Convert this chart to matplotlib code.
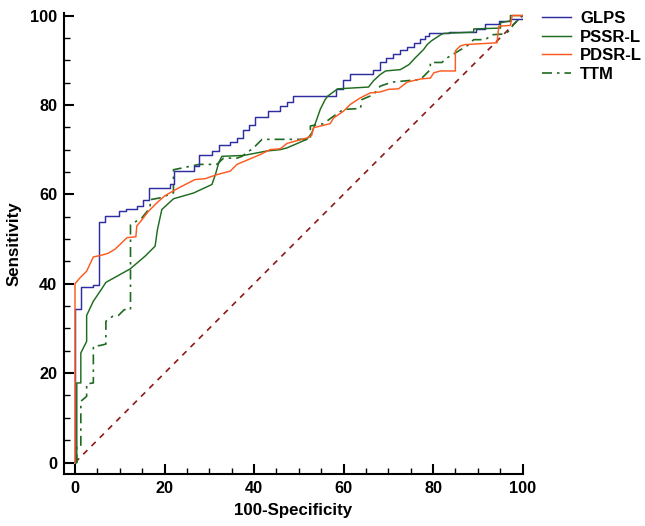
import matplotlib
matplotlib.use("Agg")
import matplotlib.pyplot as plt
from matplotlib.ticker import MultipleLocator

plt.rcParams['font.family'] = ['Liberation Sans', 'DejaVu Sans']

# ---- data ----
# GLPS: step curve (steps-post breakpoints)
glps_fpr = [0, 0, 1.3, 4.1, 5.4, 6.8, 9.9, 11.3, 13.8, 15.1, 16.6, 21.3, 22.2, 26.5, 27.8,
            30.6, 32.1, 34.7, 36.2, 37.5, 38.8, 40.3, 43.2, 45.9, 47.4, 48.7, 58.4, 59.9,
            61.4, 66.6, 68.1, 69.6, 71.1, 72.6, 74.2, 75.7, 77.0, 78.3, 79.0, 83.5, 89.5,
            91.7, 94.7, 97.3, 100]
glps_tpr = [0, 34.4, 39.2, 39.7, 53.8, 55.1, 56.2, 56.8, 57.4, 58.8, 61.4, 62.2, 65.2, 66.3,
            68.9, 69.7, 71.1, 71.7, 72.6, 74.5, 75.4, 77.3, 78.6, 79.7, 80.6, 82.1, 83.6,
            85.6, 87.0, 87.8, 89.5, 90.5, 91.5, 92.2, 93.0, 93.9, 94.8, 95.5, 96.1, 96.3,
            97.0, 98.0, 98.7, 99.2, 100]

pssr_fpr = [0, 0.4, 0.4, 1.3, 1.3, 2.6, 2.6, 4.1, 5.4, 6.9, 12.3, 15.7, 17.9, 18.4, 19.4,
            22.0, 26.5, 30.6, 31.4, 32.1, 32.8, 37.7, 42.9, 45.9, 47.4, 51.8, 52.9, 54.0,
            54.8, 55.9, 56.5, 58.7, 65.6, 66.7, 68.2, 69.4, 72.7, 74.6, 76.1, 77.9, 78.7,
            79.6, 81.7, 82.4, 89.1, 89.1, 95.1, 95.1, 97.3, 97.3, 100]
pssr_tpr = [0, 0, 17.8, 17.8, 24.5, 27.1, 32.9, 36.1, 38.0, 40.3, 43.3, 46.2, 48.4, 52.0, 56.6,
            59.0, 60.3, 62.2, 64.5, 67.0, 68.5, 68.7, 69.7, 70.0, 70.4, 72.3, 73.7, 76.7,
            79.0, 81.2, 82.0, 83.6, 84.0, 85.4, 86.8, 87.6, 87.9, 89.0, 90.6, 92.4, 93.5,
            94.3, 95.7, 96.0, 96.3, 97.0, 97.2, 98.4, 98.8, 100, 100]

pdsr_fpr = [0, 0, 1.1, 2.6, 4.1, 5.6, 7.4, 8.9, 10.4, 11.6, 13.6, 13.8, 15.1, 16.4, 18.3,
            20.1, 23.1, 26.8, 29.1, 31.7, 34.7, 36.2, 41.4, 43.6, 45.9, 47.4, 51.8, 52.9,
            53.3, 57.0, 57.8, 60.0, 61.5, 63.8, 66.0, 68.2, 70.1, 72.3, 74.2, 77.2, 79.4,
            80.2, 81.7, 85.0, 85.0, 86.1, 87.2, 94.3, 94.7, 97.3, 97.7, 100]
pdsr_tpr = [0, 40.0, 41.3, 42.8, 46.0, 46.3, 46.8, 47.7, 49.1, 50.3, 50.5, 52.9, 54.5, 56.2,
            58.1, 59.7, 61.4, 63.3, 63.5, 64.4, 65.2, 66.7, 68.9, 70.0, 70.2, 71.4, 72.6,
            73.2, 74.9, 75.8, 77.1, 78.6, 80.1, 81.6, 82.7, 82.9, 83.5, 83.6, 85.1, 85.8,
            86.0, 87.2, 87.6, 87.6, 92.1, 93.2, 93.5, 93.9, 97.6, 97.8, 100, 100]

ttm_fpr = [0, 0.4, 0.4, 1.3, 1.3, 2.6, 2.6, 4.1, 4.1, 5.7, 6.9, 6.9, 8.4, 9.7, 11.0, 12.4,
           12.4, 14.9, 16.8, 16.8, 19.0, 22.0, 22.0, 27.8, 31.7, 33.2, 36.2, 37.3, 39.9,
           41.8, 52.6, 52.6, 55.5, 57.8, 60.0, 63.8, 64.1, 66.7, 68.2, 70.8, 77.2, 79.4,
           79.4, 82.0, 83.1, 87.6, 89.1, 91.7, 93.2, 96.2, 96.9, 98.0, 100]
ttm_tpr = [0, 0, 3.7, 3.7, 13.7, 14.8, 17.6, 17.8, 26.0, 26.2, 26.5, 31.6, 32.7, 32.9, 34.2,
           34.2, 53.2, 54.7, 57.0, 58.8, 59.2, 60.3, 65.5, 66.7, 66.7, 68.1, 68.1, 68.5,
           70.4, 72.3, 72.3, 75.3, 75.8, 77.5, 79.0, 79.2, 81.2, 82.3, 84.2, 85.1, 85.7,
           87.9, 89.5, 89.5, 90.5, 93.2, 94.6, 94.6, 95.7, 95.9, 96.5, 98.0, 100]

ref_line = [0, 100]
series_names = ["GLPS", "PSSR-L", "PDSR-L", "TTM"]
x_ticks = [0, 20, 40, 60, 80, 100]
y_ticks = [0, 20, 40, 60, 80, 100]

# ---- figure ----
fig = plt.figure(figsize=(6.45, 5.26), dpi=100)
ax = fig.add_axes([64 / 645, 1 - 474 / 526, (522.5 - 64) / 645, (474 - 13.3) / 526])

ax.plot(ref_line, ref_line, color="#8B1A1A", lw=1.2, dashes=(3.5, 3.5), zorder=1)
ax.plot(glps_fpr, glps_tpr, color="#2E2EA0", lw=1.05, drawstyle="steps-post",
        label=series_names[0], zorder=3)
ax.plot(pssr_fpr, pssr_tpr, color="#1F6B1F", lw=1.05, label=series_names[1], zorder=3)
ax.plot(pdsr_fpr, pdsr_tpr, color="#FF5A1E", lw=1.05, label=series_names[2], zorder=4)
ax.plot(ttm_fpr, ttm_tpr, color="#1F6B1F", lw=1.2, dashes=(6, 3, 1.5, 3),
        label=series_names[3], zorder=2)

ax.set_xlim(-2.46, 100)
ax.set_ylim(-2.57, 100.5)
ax.set_xticks(x_ticks)
ax.set_yticks(y_ticks)
ax.xaxis.set_minor_locator(MultipleLocator(5))
ax.yaxis.set_minor_locator(MultipleLocator(5))
for s in ["top", "right"]:
    ax.spines[s].set_visible(False)
for s in ["left", "bottom"]:
    ax.spines[s].set_linewidth(1.5)
ax.tick_params(which="major", direction="in", length=7.5, width=1.5,
               labelsize=11.7, pad=5)
ax.tick_params(which="minor", direction="in", length=4, width=1.0)
for lab in ax.get_xticklabels() + ax.get_yticklabels():
    lab.set_fontweight("bold")

ax.set_xlabel("100-Specificity", fontsize=12.2, fontweight="bold", labelpad=5)
ax.set_ylabel("Sensitivity", fontsize=12.2, fontweight="bold", labelpad=6)

fig.legend(loc="upper left", bbox_to_anchor=(542 / 645, 1 - 11 / 526), frameon=False,
           prop={"size": 12, "weight": "bold"}, handlelength=1.75, handletextpad=0.55,
           labelspacing=0.22, borderpad=0, borderaxespad=0)

fig.savefig("out.png", dpi=100)
